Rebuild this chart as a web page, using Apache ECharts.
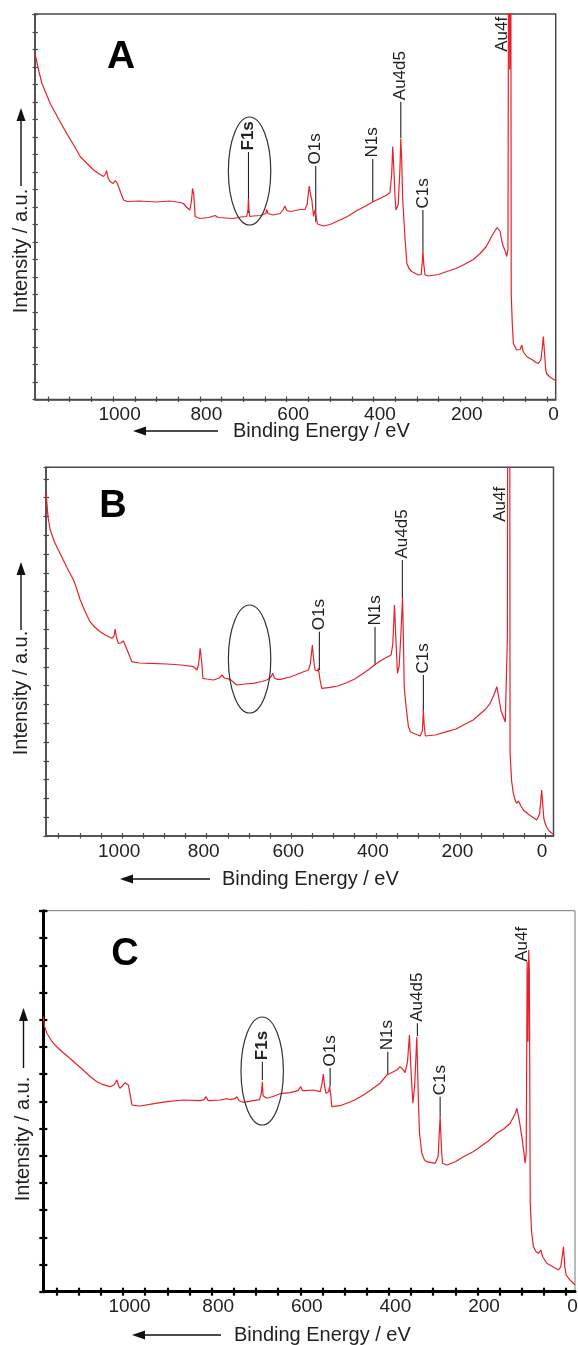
<!DOCTYPE html>
<html><head><meta charset="utf-8">
<script src="https://cdn.jsdelivr.net/npm/echarts@6/dist/echarts.min.js"></script>
<style>html,body{margin:0;padding:0;background:#fff}#c{width:578px;height:1345px}</style>
</head><body><div id="c"></div>
<script>
// ---- data: [binding energy (eV), intensity (a.u.)] ----
const A_points = [[1180,346],[1172,330],[1164,316],[1145,296],[1125,280],[1107,266],[1090,254],[1076,243],[1060,236],[1045,229.5],[1030,225],[1022,223],[1017,226],[1015,229],[1012,222],[1007,218],[1000,216],[995,219],[990,216],[986,211],[980,204],[976,199.5],[968,198],[940,198.5],[900,197.5],[870,198.5],[845,197],[838,196],[830,192],[823,189.5],[819,200],[817,211],[814,205],[811,183],[800,181],[780,182],[765,184],[762,186],[758,182],[740,181.5],[723,181],[705,182.5],[692,183],[689,190],[688,201],[687,190],[685,183],[677,183.5],[660,184],[648,186],[646,190],[643,186],[631,184.5],[615,186],[608,190],[604,193.5],[600,189],[592,188],[580,189],[569,190],[558,190],[553,195],[549,210],[548,213.5],[545,205],[542,199.5],[538,183],[535,189.5],[533,185],[529,175.5],[515,173.5],[500,175],[477,179.5],[460,183],[438,189],[420,193],[400,198],[385,201],[369,204.5],[362,207],[358,225],[355.5,253],[353,230],[350,200],[348,189.5],[343,195],[339,230],[337,261],[335,240],[332.5,199.5],[327,159.5],[323,136],[318,131],[312,128],[296.5,124.5],[290,125],[287,140],[286,149],[284,135],[281,124.5],[273.5,123.5],[250,125],[231,128],[210,131],[193,134.5],[170,140],[154,146],[140,153],[124,166],[115,172],[112,173.5],[108,168],[104,158],[100.7,153],[96,148],[93,143],[90,150],[88,600],[86,330],[84,700],[82.5,106],[80,75],[77.6,56],[70,49.5],[62,50],[58,54.5],[55,48],[47,43],[35,40],[25,37],[20,36],[14,40],[10,55],[8.5,63],[6,48],[3,30],[1,26],[-5,23],[-12,21],[-18,19.5],[-20,19]];

const B_points = [[1180,344],[1175,318],[1170,306],[1160,294],[1147,282.7],[1130,268],[1115,256],[1108,248],[1099,236],[1088,225],[1076,214.3],[1065,209],[1052,204.3],[1040,201],[1024,197.7],[1019,200],[1016.5,207],[1013,198],[1009,192.7],[1003,193],[997,195],[992,190],[985,182.7],[977,174.3],[960,173],[934,172.7],[894,172],[860,171],[831,169.3],[823,166],[819,172],[815.6,187.7],[812,175],[809,157.7],[800,157],[784,156],[770,158],[764,161],[758,158],[745,156.7],[729,151],[710,152],[690,152.7],[670,154.5],[658,156],[648,159],[644,162.7],[640,158],[634,156.7],[626,156.7],[603,159],[590,161],[571,164.3],[559.6,166],[555,172],[551,188],[550,191],[548,180],[544,166],[538,165],[536,167.7],[532,156],[528,147.7],[508,148.7],[490,150],[469,153.3],[450,157],[429.5,162.7],[415,167],[403.5,171],[390,175],[374,178.7],[364,181],[360,192],[356,231],[353,200],[349,162.7],[345,170],[341,200],[337,238.7],[335,200],[333,149.3],[328.6,129.3],[323,109.3],[318,104],[311,102.7],[295.5,100],[290,105],[287.7,126],[286,112],[283,100],[279.7,99.3],[260,101],[232.4,104.3],[210,107],[193,111],[170,116],[153.7,122],[140,127],[130,132.7],[120,142],[114,149.3],[110,140],[104,125],[98.6,119.3],[94,114],[92,112.7],[89,200],[88,600],[86,400],[84,700],[82.7,82.7],[79,55],[75,42.7],[70,35],[67,32.7],[63,35],[60.7,36],[57,30],[51,26],[40,22],[30,19],[19.6,16],[13,22],[10,35],[8,46],[6,35],[3,18],[0,12.7],[-5,8],[-10,5],[-16,2.7],[-20,2]];

const C_points = [[1180,275],[1177,265],[1172,258.4],[1160,250],[1150,245],[1135,239],[1120,233.4],[1105,227.5],[1090,221.7],[1075,215.5],[1059,210],[1045,207],[1029,205],[1020,207],[1014,211.7],[1010,206],[1007,203.4],[1001,206],[995.5,209],[991,208],[988,206.7],[984,197],[980,186.7],[970,186],[961.6,185.7],[930,188],[901,190],[864,191.7],[826,191],[817,192],[812.6,195],[808,191],[803.6,190],[781,191.7],[765,193],[762,195],[758,192],[754.6,191.7],[748,193],[743,195],[738,191],[728.5,189.4],[706,191],[692,192],[688,198],[685.6,210],[684,196],[675.6,193.4],[660,195.5],[645.6,198],[623,199],[605,201],[599,205],[595,201],[589,201],[570.4,201.7],[555,200],[551,208],[548,217.7],[545,205],[542,198.4],[536,200],[534,205],[531,196],[529,185],[510,186],[495,188.4],[476,192],[457.6,196.7],[440,202],[420,208.4],[404.7,216.7],[390,220],[382,221.7],[374.7,225],[368,222],[363.4,219],[358,230],[353.7,256.7],[350,220],[346,188.4],[342,205],[337,255],[334,200],[331,158.4],[325.7,138.4],[320,132],[314.5,130],[295.7,128.4],[289,135],[284.4,175],[281,140],[279,128.4],[269,126.7],[250,130],[231.8,135],[210,140],[194,145],[175,151],[156.4,158.4],[140,163],[126.4,168.4],[115,178],[111.3,183.4],[106,172],[100,155],[95,138],[92.5,128.4],[90,140],[88,330],[86,250],[84.5,341.7],[83,320],[81,88.4],[78,60],[73.8,45],[68,40],[62.5,38.4],[57,41.7],[53,35],[43.6,28.4],[30,25],[17.4,21.7],[12,25],[8,38],[6,45],[3,25],[0,16.7],[-8,12],[-16.5,8.4],[-20,7]];

// tick values / labels of the binding-energy axis
const xTickValues = [0,50,100,150,200,250,300,350,400,450,500,550,600,650,700,750,800,850,900,950,1000,1050,1100,1150];
const xLabelValues = [0,200,400,600,800,1000];

// peak annotations: [label, eV, leader top (a.u.), leader bottom (a.u.), bold]
const A_peaks = [['F1s',688,247.5,186.5,true],['O1s',533,233.5,177.8],['N1s',401.6,240.5,197.8],['Au4d5',337,297.8,261.5],['C1s',286,189.5,148.8],['Au4f',104,346.2,null]];
const B_peaks = [['O1s',533.6,204.3,166],['N1s',402,209,171],['Au4d5',337.4,276,238],['C1s',287.7,161,124.3],['Au4f',106,312.7,null]];
const C_peaks = [['F1s',685.6,230,211.7,true],['O1s',532.7,223.7,205],['N1s',402.5,240,216.7],['Au4d5',335.7,268.4,255.7],['C1s',284.4,195,175],['Au4f',100,328.4,null]];
// F1s region markers: [eV, a.u.]
const ellipseCenters = [[685.5,228.5],[698.6,177],[686,220.7]];

// ---- layout / style ----
const FONT = "'Liberation Sans', Arial, sans-serif";
const RED = '#e8202a';
const panels = [
  {grid:{left:35, top:14, width:520.7, height:385.5}, yMax:385.5, yInt:17.5, pad:[0,0,0,13], thick:false, frame:'#4a4a4a', pts:A_points, peaks:A_peaks,
   letter:'A', letterPos:[121,57.5], letterSize:39, xt:{tip:133, tail:218, text:233, y:431}, yt:{x:21, textCy:251, tip:108, tail:186}},
  {grid:{left:46, top:467.3, width:507.5, height:368.7}, yMax:368.7, yInt:18.8, pad:[0,6,0,0], thick:false, frame:'#4a4a4a', pts:B_points, peaks:B_peaks,
   letter:'B', letterPos:[113,506.7], letterSize:38, xt:{tip:120, tail:210, text:222, y:879}, yt:{x:21, textCy:693, tip:562, tail:630}},
  {grid:{left:43.3, top:910.7, width:531.7, height:381}, yMax:381, yInt:27.2, pad:[0,0,0,13], thick:true, frame:'#777', pts:C_points, peaks:C_peaks,
   letter:'C', letterPos:[125,955], letterSize:38, xt:{tip:132, tail:221, text:234, y:1335}, yt:{x:23.5, textCy:1139, tip:1008, tail:1068}}
];

const grids = [], xAxes = [], yAxes = [], series = [];
panels.forEach((p, i) => {
  grids.push(Object.assign({show:true, borderColor:p.frame, borderWidth:p.thick?1:1.5, backgroundColor:'transparent', containLabel:false, outerBoundsMode:'none'}, p.grid));
  const axCol = p.thick ? '#000' : p.frame;
  const lw = p.thick ? 3 : 1.5;
  const tw = p.thick ? 2.2 : 1.2;
  const tl = p.thick ? 4 : 2.5;
  xAxes.push({type:'value', gridIndex:i, min:-20, max:1180, inverse:true, position:'bottom',
    axisLine:{show:true, onZero:false, lineStyle:{color:axCol, width:lw}},
    axisTick:{show:true, customValues:xTickValues, inside:false, length:tl, lineStyle:{color:axCol, width:tw}},
    axisLabel:{show:true, customValues:xLabelValues, margin:6, fontSize:19, fontFamily:FONT, color:'#222', padding:p.pad,
      formatter:v => String(v)},
    splitLine:{show:false}});
  yAxes.push({type:'value', gridIndex:i, min:0, max:p.yMax, interval:p.yInt, position:'left',
    axisLine:{show:true, onZero:false, lineStyle:{color:axCol, width:lw}},
    axisTick:{show:true, inside:false, length:tl, lineStyle:{color:axCol, width:tw}},
    axisLabel:{show:false}, splitLine:{show:false}});
  series.push({type:'line', xAxisIndex:i, yAxisIndex:i, data:p.pts, showSymbol:false, symbol:'none',
    lineStyle:{color:RED, width:1.2}, clip:true, z:5, silent:true, animation:false});
});
// inner halves of the crossing ticks
panels.forEach((p, i) => {
  const axCol = p.thick ? '#000' : p.frame;
  const tw = p.thick ? 2.2 : 1.2;
  const tl = p.thick ? 4 : 3;
  xAxes.push({type:'value', gridIndex:i, min:-20, max:1180, inverse:true, position:'bottom',
    axisLine:{show:false, onZero:false}, axisLabel:{show:false}, splitLine:{show:false},
    axisTick:{show:true, customValues:xTickValues, inside:true, length:tl, lineStyle:{color:axCol, width:tw}}});
  yAxes.push({type:'value', gridIndex:i, min:0, max:p.yMax, interval:p.yInt, position:'left',
    axisLine:{show:false, onZero:false}, axisLabel:{show:false}, splitLine:{show:false},
    axisTick:{show:true, inside:true, length:tl, lineStyle:{color:axCol, width:tw}}});
});

const chart = echarts.init(document.getElementById('c'), null, {renderer:'canvas'});
chart.setOption({animation:false, backgroundColor:'#fff', grid:grids, xAxis:xAxes, yAxis:yAxes, series:series});

const g = [];
function arrow(x1, y1, x2, y2) { // tip at (x2,y2)
  const dx = x2 - x1, dy = y2 - y1, L = Math.hypot(dx, dy), ux = dx / L, uy = dy / L;
  const hl = 13, hw = 4.5;
  const bx = x2 - ux * hl, by = y2 - uy * hl;
  g.push({type:'line', shape:{x1:x1, y1:y1, x2:bx, y2:by}, style:{stroke:'#111', lineWidth:1.4}, silent:true});
  g.push({type:'polygon', shape:{points:[[x2, y2], [bx - uy * hw, by + ux * hw], [bx + uy * hw, by - ux * hw]]}, style:{fill:'#111'}, silent:true});
}
panels.forEach((p, i) => {
  const P = (x, y) => chart.convertToPixel({seriesIndex:i}, [x, y]);
  p.peaks.forEach(pk => {
    const top = P(pk[1], pk[2]);
    g.push({type:'text', x:top[0], y:top[1] - 1.5, rotation:Math.PI / 2,
      style:{text:pk[0], font:(pk[4] ? 'bold ' : '') + '17px ' + FONT, fill:'#222', textAlign:'left', textVerticalAlign:'middle'}, silent:true, z:10});
    if (pk[3] != null) {
      const bot = P(pk[1], pk[3]);
      g.push({type:'line', shape:{x1:top[0], y1:top[1], x2:bot[0], y2:bot[1]}, style:{stroke:'#222', lineWidth:1.1}, silent:true, z:4});
    }
  });
  const ec = P(ellipseCenters[i][0], ellipseCenters[i][1]);
  g.push({type:'ellipse', shape:{cx:ec[0], cy:ec[1], rx:21.2, ry:54}, style:{fill:null, stroke:'#333', lineWidth:1.2}, silent:true, z:10});
  g.push({type:'text', x:p.letterPos[0], y:p.letterPos[1],
    style:{text:p.letter, font:'bold ' + p.letterSize + 'px ' + FONT, fill:'#000', textAlign:'center', textVerticalAlign:'middle'}, silent:true});
  // x-axis title with arrow
  arrow(p.xt.tail, p.xt.y, p.xt.tip, p.xt.y);
  g.push({type:'text', x:p.xt.text, y:p.xt.y, style:{text:'Binding Energy / eV', font:'20px ' + FONT, fill:'#222', textAlign:'left', textVerticalAlign:'middle'}, silent:true});
  // y-axis title with arrow
  g.push({type:'text', x:p.yt.x, y:p.yt.textCy, rotation:Math.PI / 2, style:{text:'Intensity / a.u.', font:'20px ' + FONT, fill:'#222', textAlign:'center', textVerticalAlign:'middle'}, silent:true});
  arrow(p.yt.x, p.yt.tail, p.yt.x, p.yt.tip);
});
chart.setOption({graphic:g});
</script>
</body></html>
